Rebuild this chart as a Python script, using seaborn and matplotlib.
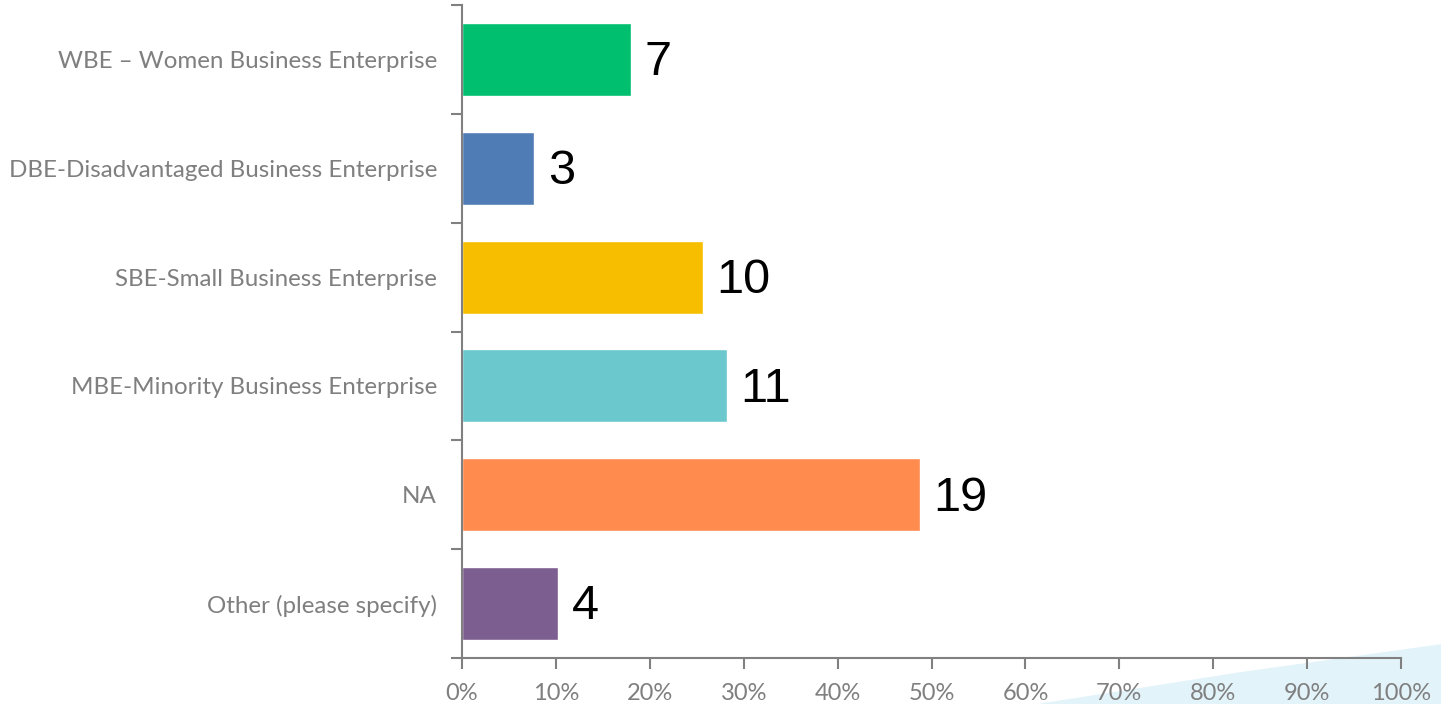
import seaborn as sns
import matplotlib.pyplot as plt
import matplotlib.patches as mpatches
import numpy as np
import pandas as pd

categorias = ["WBE \u2013 Women Business Enterprise",
              "DBE-Disadvantaged Business Enterprise",
              "SBE-Small Business Enterprise",
              "MBE-Minority Business Enterprise",
              "NA",
              "Other (please specify)"]
porcentajes = [17.95, 7.69, 25.64, 28.21, 48.72, 10.26]
respuestas = [7, 3, 10, 11, 19, 4]
colores = ["#00BF6F", "#507CB6", "#F7BE00", "#6BC8CD", "#FF8B4F", "#7D5E90"]
ticks_x = [0, 10, 20, 30, 40, 50, 60, 70, 80, 90, 100]

df = pd.DataFrame({"Categoria": categorias, "Porcentaje": porcentajes})

sns.set_style("white")
plt.rcParams['font.family'] = ['Lato', 'DejaVu Sans']

fig = plt.figure(figsize=(14.41, 7.04), dpi=100)

# franja decorativa azul abajo a la derecha
fig.patches.append(mpatches.Polygon([(0.72, 0.0), (1.0, 0.0), (1.0, 0.085), (0.86, 0.045)],
                                    closed=True, transform=fig.transFigure,
                                    facecolor="#E3F3FA", edgecolor="none", zorder=-5))

ax = fig.add_axes([0.3206, 0.0653, 0.6517, 0.9276])
ax.set_zorder(1)
ax.patch.set_alpha(0)
sns.barplot(data=df, y="Categoria", x="Porcentaje", hue="Categoria", palette=colores,
            orient="h", width=0.67, legend=False, ax=ax, saturation=1)

for i, (p, n) in enumerate(zip(porcentajes, respuestas)):
    ax.text(p + 1.45, i + 0.03, str(n), va="center", ha="left", fontsize=35,
            family="Liberation Sans", color="black")

ax.set_xlim(0, 100)
ax.set_ylim(len(categorias) - 0.5, -0.5)
ax.set_xticks(ticks_x)
ax.set_xticklabels([f"{t}%" for t in ticks_x], fontsize=17, color="#7F7F7F")
ax.set_yticks(range(len(categorias)))
ax.set_yticklabels(categorias, fontsize=17.4, color="#7F7F7F")
ax.set_yticks(np.arange(-0.5, len(categorias), 1), minor=True)
ax.tick_params(axis="y", which="major", left=True, length=0, pad=18)
ax.tick_params(axis="y", which="minor", left=True, length=8, width=1.5, color="#808080", direction="out")
ax.tick_params(axis="x", bottom=True, length=8, width=1.5, color="#808080", direction="out", pad=10)
ax.set_xlabel("")
ax.set_ylabel("")
for s in ["top", "right"]:
    ax.spines[s].set_visible(False)
for s in ["left", "bottom"]:
    ax.spines[s].set_color("#808080")
    ax.spines[s].set_linewidth(1.5)

plt.savefig("out.png", dpi=100)
plt.close()
